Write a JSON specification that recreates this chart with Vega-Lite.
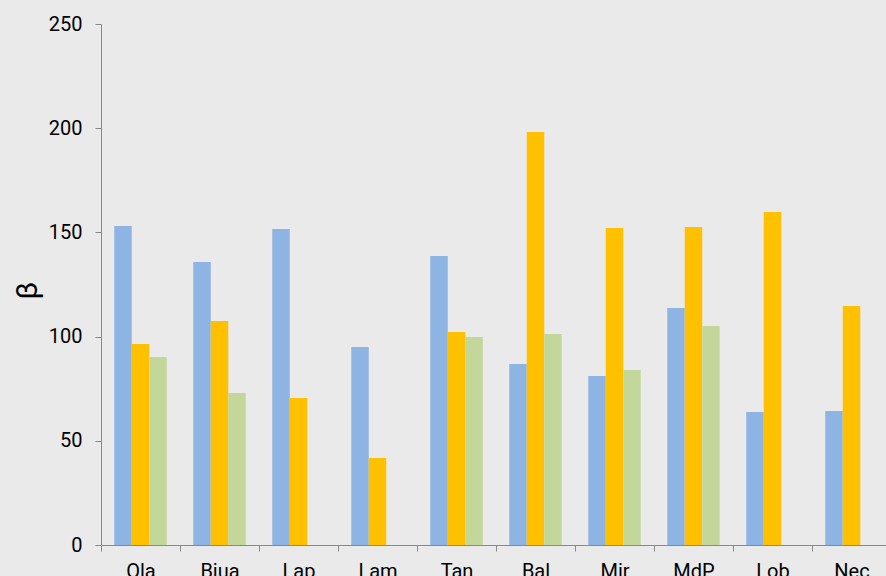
{
  "$schema": "https://vega.github.io/schema/vega-lite/v6.json",
  "width": 790,
  "height": 521,
  "autosize": "none",
  "padding": {"left": 101, "top": 24, "right": 0, "bottom": 40},
  "background": "#EAEAEA",
  "config": {"view": {"stroke": null}, "font": "Roboto"},
  "data": {
    "values": [
      {"site": "Ola", "series": "A", "value": 153.1},
      {"site": "Ola", "series": "B", "value": 96.4},
      {"site": "Ola", "series": "C", "value": 90.2},
      {"site": "Biua", "series": "A", "value": 135.8},
      {"site": "Biua", "series": "B", "value": 107.5},
      {"site": "Biua", "series": "C", "value": 72.9},
      {"site": "Lap", "series": "A", "value": 151.6},
      {"site": "Lap", "series": "B", "value": 70.5},
      {"site": "Lam", "series": "A", "value": 95.0},
      {"site": "Lam", "series": "B", "value": 41.7},
      {"site": "Tan", "series": "A", "value": 138.7},
      {"site": "Tan", "series": "B", "value": 102.2},
      {"site": "Tan", "series": "C", "value": 99.8},
      {"site": "Bal", "series": "A", "value": 86.9},
      {"site": "Bal", "series": "B", "value": 198.2},
      {"site": "Bal", "series": "C", "value": 101.2},
      {"site": "Mir", "series": "A", "value": 81.1},
      {"site": "Mir", "series": "B", "value": 152.1},
      {"site": "Mir", "series": "C", "value": 84.0},
      {"site": "MdP", "series": "A", "value": 113.7},
      {"site": "MdP", "series": "B", "value": 152.6},
      {"site": "MdP", "series": "C", "value": 105.1},
      {"site": "Lob", "series": "A", "value": 63.8},
      {"site": "Lob", "series": "B", "value": 159.8},
      {"site": "Nec", "series": "A", "value": 64.3},
      {"site": "Nec", "series": "B", "value": 114.7}
    ]
  },
  "mark": {"type": "bar"},
  "encoding": {
    "x": {
      "field": "site",
      "type": "nominal",
      "sort": ["Ola", "Biua", "Lap", "Lam", "Tan", "Bal", "Mir", "MdP", "Lob", "Nec"],
      "scale": {"paddingInner": 0, "paddingOuter": 0},
      "axis": {
        "title": null,
        "labelAngle": 0,
        "tickBand": "extent",
        "labelFontSize": 20,
        "labelColor": "#000000",
        "domainColor": "#888888",
        "tickColor": "#888888",
        "tickSize": 6,
        "labelPadding": 10
      }
    },
    "xOffset": {
      "field": "series",
      "type": "nominal",
      "sort": ["A", "B", "C"],
      "scale": {"paddingInner": 0, "paddingOuter": 0.757}
    },
    "y": {
      "field": "value",
      "type": "quantitative",
      "scale": {"domain": [0, 250]},
      "axis": {
        "values": [0, 50, 100, 150, 200, 250],
        "grid": false,
        "title": "β",
        "titleAngle": 270,
        "titleFontSize": 30,
        "titleFontWeight": "normal",
        "titleColor": "#000000",
        "titlePadding": 6,
        "titleY": 266,
        "labelFontSize": 20,
        "labelColor": "#000000",
        "labelPadding": 13,
        "domainColor": "#888888",
        "tickColor": "#888888",
        "tickSize": 6
      }
    },
    "color": {
      "field": "series",
      "type": "nominal",
      "scale": {"domain": ["A", "B", "C"], "range": ["#8EB4E3", "#FFC000", "#C4D79B"]},
      "legend": null
    }
  }
}
